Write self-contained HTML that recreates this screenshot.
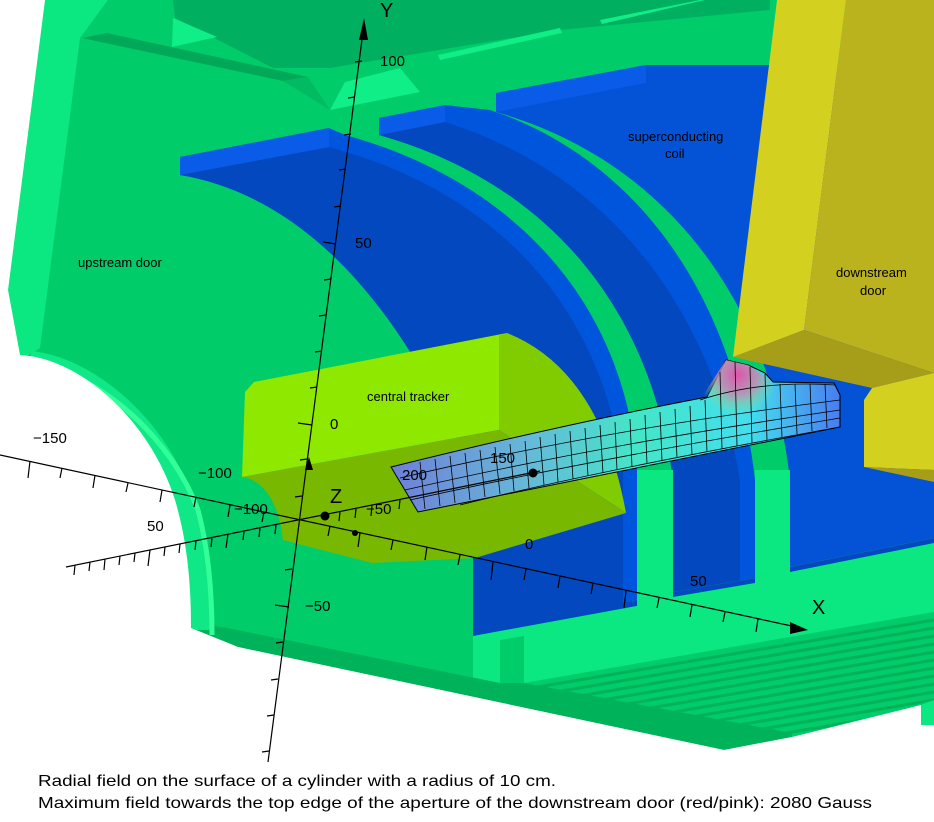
<!DOCTYPE html>
<html><head><meta charset="utf-8"><style>
html,body{margin:0;padding:0;background:#fff;}
svg{display:block;}
text{font-family:"Liberation Sans",sans-serif;}
</style></head><body>
<svg width="934" height="822" viewBox="0 0 934 822" xmlns="http://www.w3.org/2000/svg">
<defs>
<linearGradient id="mesh" x1="391" y1="0" x2="840" y2="0" gradientUnits="userSpaceOnUse">
<stop offset="0" stop-color="#6f7fd8"/><stop offset="0.3" stop-color="#66b8d8"/>
<stop offset="0.55" stop-color="#44e6c8"/><stop offset="0.8" stop-color="#44ddee"/>
<stop offset="1" stop-color="#4a7cf0"/></linearGradient>
<radialGradient id="pink" cx="738" cy="375" r="40" gradientUnits="userSpaceOnUse">
<stop offset="0" stop-color="#dd55aa"/><stop offset="0.5" stop-color="#cc88aa" stop-opacity="0.8"/>
<stop offset="1" stop-color="#88ee66" stop-opacity="0"/></radialGradient>
<clipPath id="strp"><polygon points="524,683 934,605 934,700 792,737 724,750"/></clipPath>
</defs>
<rect width="934" height="822" fill="#fff"/>
<polygon points="45,0 934,0 934,720 792,737 724,750 238,647 191,628 191,600 175,500 120,400 20,355 8,290" fill="#00cc6a"/>
<polygon points="45,0 108,0 80,38 40,348 21,360 8,290" fill="#0be882"/>
<polygon points="173,0 770,0 770,10 560,30 330,68 273,68 175,18" fill="#00b060"/>
<polygon points="82,38 107,33 308,77 283,81" fill="#00a858"/>
<polygon points="173,18 217,37 172,47" fill="#10ee88"/>
<polygon points="330,110 345,82 400,68 420,92" fill="#10ee88"/>
<polygon points="283,81 308,77 330,110" fill="#00bb62"/>
<polygon points="438,55 560,28 562,33 440,60" fill="#10ee88"/>
<polygon points="600,20 700,0 705,0 602,24" fill="#10ee88"/>
<!-- coil3 -->
<path d="M496,112 L496,93 L646,65 L934,65 L934,538 L790,567 L790,480 C770,300 665,160 496,112 Z" fill="#0452d6"/>
<polygon points="496,93 646,65 646,83 496,112" fill="#0a5ce8"/>
<!-- coil2 -->
<path d="M379,135 L379,118 L445,105 L490,110 C640,160 735,300 755,480 L755,578 L673,592 L673,480 C650,300 540,180 379,135 Z" fill="#0055dd"/>
<path d="M379,135 L445,122 C600,170 710,300 740,480 L740,585 L673,592 L673,480 C650,300 540,180 379,135 Z" fill="#0448c0"/>
<polygon points="379,118 445,105 445,122 379,135" fill="#0a5ce8"/>
<!-- coil1 -->
<path d="M180,175 L180,157 L329,128 L345,135 C510,180 625,300 637,470 L637,600 L473,630 L473,480 L470,470 C400,300 300,195 180,175 Z" fill="#0055dd"/>
<path d="M180,175 L329,147 C490,190 600,300 623,470 L623,603 L473,630 L473,480 L470,470 C400,300 300,195 180,175 Z" fill="#0448c0"/>
<polygon points="180,157 329,128 329,147 180,175" fill="#0a5ce8"/>
<!-- light green floor -->
<polygon points="473,636 637,600 673,592 755,578 790,567 934,538 934,612 524,683 473,683" fill="#0be882"/>
<polygon points="637,470 673,470 673,592 637,600" fill="#0be882"/>
<polygon points="755,470 790,470 790,567 755,578" fill="#0be882"/>
<polygon points="473,630 637,600 637,606 473,636" fill="#0448c0"/>
<polygon points="673,592 755,578 755,583 673,597" fill="#0448c0"/>
<polygon points="790,567 934,538 934,543 790,572" fill="#0448c0"/>
<polygon points="500,640 524,636 524,683 500,683" fill="#00cc6a"/>
<polygon points="191,628 197,622 500,683 524,683 792,733 792,737 724,750 238,647" fill="#00b35a"/>
<g clip-path="url(#strp)" stroke="#00b35a" stroke-width="3">
<line x1="520" y1="690" x2="934" y2="620"/><line x1="520" y1="698" x2="934" y2="628"/>
<line x1="520" y1="706" x2="934" y2="636"/><line x1="520" y1="714" x2="934" y2="644"/>
<line x1="520" y1="722" x2="934" y2="652"/><line x1="520" y1="730" x2="934" y2="660"/>
<line x1="520" y1="738" x2="934" y2="668"/><line x1="520" y1="746" x2="934" y2="676"/>
<line x1="520" y1="754" x2="934" y2="684"/><line x1="520" y1="762" x2="934" y2="692"/>
<line x1="520" y1="770" x2="934" y2="700"/><line x1="520" y1="778" x2="934" y2="708"/>
</g>
<polygon points="921,705 934,700 934,725 921,725" fill="#0be882"/>
<path d="M30,362 C90,368 160,430 183,505 C196,550 200,600 200,630" fill="none" stroke="#10e888" stroke-width="22"/>
<path d="M48,368 C105,380 172,440 198,510 C210,555 212,600 212,635" fill="none" stroke="#33ff99" stroke-width="5"/>
<path d="M0,0 L45,0 L8,290 L20,355 C80,358 150,420 175,500 C190,550 191,600 191,628 L238,647 L724,750 L792,737 L921,705 L921,725 L934,725 L934,822 L0,822 Z" fill="#fff"/>
<!-- downstream door -->
<polygon points="777,0 846,0 804,330 733,357" fill="#d4d020"/>
<polygon points="846,0 934,0 934,373 804,330" fill="#bbb31e"/>
<polygon points="733,357 804,330 934,373 872,388" fill="#a69e18"/>
<polygon points="872,388 934,373 934,470 864,467 864,400" fill="#d4d020"/>
<polygon points="864,467 934,470 934,482" fill="#a69e18"/>
<!-- tracker -->
<path d="M507,333 Q600,370 626,513 L499,430 L499,336 Z" fill="#80cc00"/>
<polygon points="254,382 507,333 499,336 499,430 242,477 245,392" fill="#8fe800"/>
<polygon points="242,477 499,430 626,513 475,558 372,563 283,540" fill="#78b800"/>
<path d="M242,477 C270,480 283,520 283,545 L242,545 Z" fill="#00cc6a"/>
<!-- mesh -->
<path d="M391,467 Q560,425 707,397 L726,360 L748,365 L765,373 L773,382 L834,383 L840,395 L840,427 L418,512 Z" fill="url(#mesh)" stroke="#000" stroke-width="1"/>
<path d="M700,400 L726,360 L748,365 L773,382 L790,400 L760,420 L710,415Z" fill="url(#pink)"/>
<g stroke="#000" stroke-width="0.8" fill="none">
<line x1="420" y1="462" x2="425" y2="509"/><line x1="435" y1="459" x2="440" y2="506"/>
<line x1="450" y1="456" x2="455" y2="503"/><line x1="465" y1="453" x2="470" y2="500"/>
<line x1="480" y1="450" x2="485" y2="497"/><line x1="495" y1="447" x2="500" y2="494"/>
<line x1="510" y1="444" x2="514" y2="491"/><line x1="525" y1="441" x2="529" y2="488"/>
<line x1="540" y1="437" x2="544" y2="485"/><line x1="555" y1="434" x2="558" y2="482"/>
<line x1="570" y1="431" x2="573" y2="479"/><line x1="585" y1="428" x2="588" y2="476"/>
<line x1="600" y1="425" x2="603" y2="473"/><line x1="615" y1="422" x2="617" y2="470"/>
<line x1="630" y1="419" x2="632" y2="467"/><line x1="645" y1="415" x2="647" y2="464"/>
<line x1="660" y1="412" x2="662" y2="461"/><line x1="675" y1="409" x2="677" y2="458"/>
<line x1="690" y1="406" x2="692" y2="455"/><line x1="705" y1="400" x2="707" y2="452"/>
<line x1="720" y1="372" x2="722" y2="449"/><line x1="735" y1="362" x2="737" y2="446"/>
<line x1="750" y1="367" x2="752" y2="443"/><line x1="765" y1="374" x2="767" y2="440"/>
<line x1="780" y1="384" x2="782" y2="437"/><line x1="795" y1="384" x2="797" y2="434"/>
<line x1="810" y1="384" x2="812" y2="431"/><line x1="825" y1="384" x2="827" y2="428"/>
<path d="M400,478 Q600,430 840,400"/><path d="M405,490 Q600,445 840,410"/>
<path d="M410,500 Q600,458 840,418"/><path d="M460,505 Q600,470 840,427"/>
<path d="M700,400 Q760,380 835,385"/>
</g>
<g stroke="#000" stroke-width="1.2" fill="none">
<line x1="268" y1="762" x2="364" y2="24"/>
<line x1="0" y1="455" x2="801" y2="628"/>
<line x1="66" y1="567" x2="540" y2="471"/>
<line x1="355" y1="62" x2="362" y2="61"/><line x1="348" y1="98" x2="355" y2="97"/>
<line x1="344" y1="135" x2="351" y2="134"/><line x1="339" y1="170" x2="346" y2="169"/>
<line x1="334" y1="207" x2="341" y2="206"/><line x1="323" y1="242" x2="336" y2="244"/>
<line x1="324" y1="280" x2="331" y2="279"/><line x1="319" y1="316" x2="326" y2="315"/>
<line x1="315" y1="352" x2="322" y2="351"/><line x1="310" y1="388" x2="317" y2="387"/>
<line x1="298" y1="423" x2="312" y2="425"/><line x1="300" y1="460" x2="307" y2="459"/>
<line x1="295" y1="497" x2="302" y2="496"/><line x1="285" y1="570" x2="292" y2="569"/>
<line x1="275" y1="605" x2="289" y2="607"/><line x1="276" y1="643" x2="283" y2="642"/>
<line x1="271" y1="680" x2="278" y2="679"/><line x1="267" y1="716" x2="274" y2="715"/>
<line x1="262" y1="752" x2="269" y2="751"/>
<line x1="30" y1="461" x2="28" y2="478"/><line x1="62" y1="468" x2="60" y2="478"/>
<line x1="95" y1="475" x2="93" y2="488"/><line x1="128" y1="483" x2="126" y2="492"/>
<line x1="162" y1="490" x2="160" y2="502"/><line x1="196" y1="497" x2="194" y2="507"/>
<line x1="230" y1="505" x2="228" y2="517"/><line x1="264" y1="512" x2="262" y2="522"/>
<line x1="330" y1="526" x2="328" y2="536"/><line x1="360" y1="533" x2="358" y2="547"/>
<line x1="393" y1="540" x2="391" y2="550"/><line x1="427" y1="547" x2="425" y2="560"/>
<line x1="460" y1="555" x2="458" y2="565"/><line x1="493" y1="562" x2="491" y2="580"/>
<line x1="526" y1="569" x2="524" y2="580"/><line x1="560" y1="576" x2="558" y2="588"/>
<line x1="593" y1="583" x2="591" y2="594"/><line x1="626" y1="591" x2="624" y2="608"/>
<line x1="659" y1="598" x2="657" y2="608"/><line x1="692" y1="605" x2="690" y2="617"/>
<line x1="725" y1="612" x2="723" y2="622"/><line x1="758" y1="619" x2="756" y2="632"/>
<line x1="75" y1="565" x2="74" y2="575"/><line x1="90" y1="562" x2="89" y2="571"/>
<line x1="105" y1="559" x2="104" y2="570"/><line x1="120" y1="556" x2="119" y2="565"/>
<line x1="135" y1="553" x2="134" y2="562"/><line x1="150" y1="550" x2="148" y2="566"/>
<line x1="165" y1="547" x2="164" y2="556"/><line x1="180" y1="544" x2="179" y2="553"/>
<line x1="196" y1="541" x2="195" y2="550"/><line x1="212" y1="538" x2="211" y2="547"/>
<line x1="228" y1="534" x2="226" y2="548"/><line x1="244" y1="531" x2="243" y2="540"/>
<line x1="260" y1="528" x2="259" y2="537"/><line x1="276" y1="525" x2="275" y2="534"/>
<line x1="340" y1="512" x2="339" y2="521"/><line x1="356" y1="509" x2="355" y2="518"/>
<line x1="372" y1="505" x2="371" y2="516"/><line x1="400" y1="500" x2="399" y2="509"/>
</g>
<polygon points="364,18 359,40 368,40" fill="#000"/>
<polygon points="808,630 790,622 790,634" fill="#000"/>
<polygon points="309,457 305,470 313,470" fill="#000"/>
<circle cx="325" cy="516" r="4.5" fill="#000"/>
<circle cx="533" cy="473" r="4.5" fill="#000"/>
<circle cx="355" cy="533" r="3" fill="#000"/>
<g font-size="15" fill="#000">
<text x="380" y="17" font-size="20">Y</text>
<text x="812" y="614" font-size="20">X</text>
<text x="330" y="503" font-size="20">Z</text>
<text x="380" y="66">100</text>
<text x="355" y="248">50</text>
<text x="330" y="429">0</text>
<text x="305" y="611">−50</text>
<text x="33" y="443">−150</text>
<text x="198" y="478">−100</text>
<text x="147" y="531">50</text>
<text x="234" y="514">−100</text>
<text x="366" y="514">−50</text>
<text x="402" y="480">200</text>
<text x="490" y="463">150</text>
<text x="525" y="549">0</text>
<text x="690" y="586">50</text>
</g>
<g font-size="13" fill="#000">
<text x="78" y="267">upstream door</text>
<text x="628" y="141">superconducting</text>
<text x="665" y="158">coil</text>
<text x="836" y="277">downstream</text>
<text x="860" y="295">door</text>
<text x="367" y="401">central tracker</text>
</g>
<g font-size="16" fill="#000">
<text x="38" y="786" textLength="518" lengthAdjust="spacingAndGlyphs">Radial field on the surface of a cylinder with a radius of 10 cm.</text>
<text x="38" y="808" textLength="834" lengthAdjust="spacingAndGlyphs">Maximum field towards the top edge of the aperture of the downstream door (red/pink): 2080 Gauss</text>
</g>
</svg>
</body></html>
